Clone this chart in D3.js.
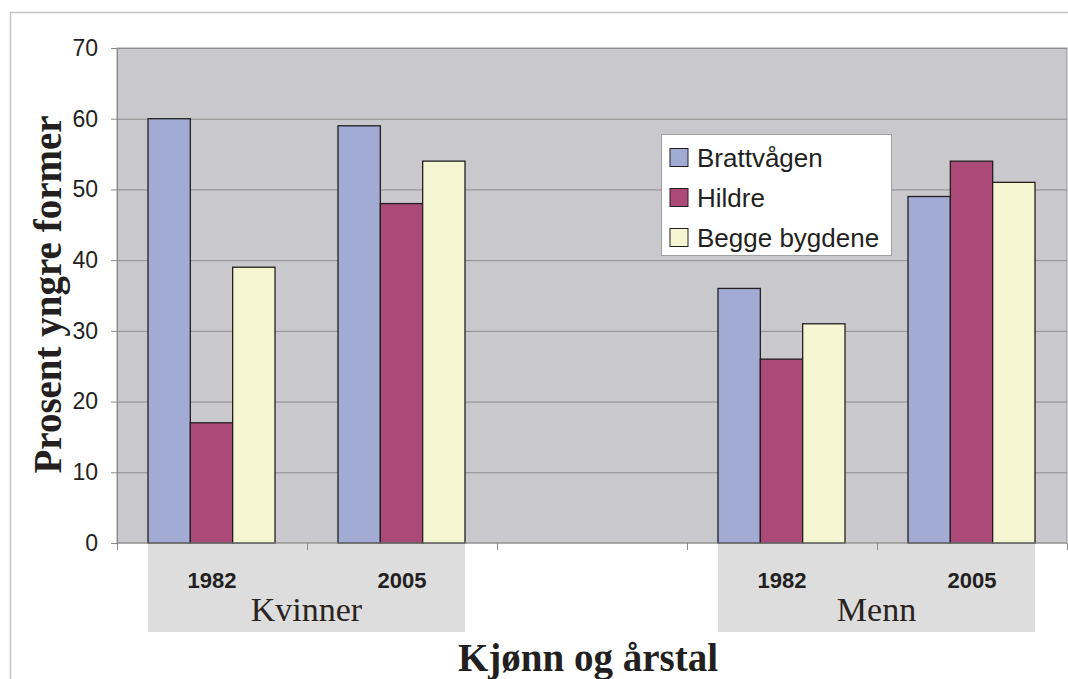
<!DOCTYPE html>
<html>
<head>
<meta charset="utf-8">
<script src="https://cdn.jsdelivr.net/npm/d3@7/dist/d3.min.js"></script>
<style>
  body { margin: 0; background: #fff; }
  svg { display: block; }
</style>
</head>
<body>
<div id="chart"></div>
<script>
const seriesNames = ["Brattvågen", "Hildre", "Begge bygdene"];
const seriesColors = ["#a1abd3", "#ab4a79", "#f6f6d3"];
const slots = ["K1982", "K2005", "gap", "M1982", "M2005"];
const yearLabels = ["1982", "2005", "", "1982", "2005"];
const brattvagen = [60, 59, null, 36, 49];
const hildre = [17, 48, null, 26, 54];
const begge = [39, 54, null, 31, 51];
const groups = [
  { name: "Kvinner", from: "K1982", to: "K2005" },
  { name: "Menn", from: "M1982", to: "M2005" }
];
const yTicks = [0, 10, 20, 30, 40, 50, 60, 70];

const width = 1068;
const height = 679;
const margin = { top: 48, right: 1, bottom: 136, left: 117 };
const innerWidth = width - margin.left - margin.right;
const innerHeight = height - margin.top - margin.bottom;

const svg = d3.select("#chart").append("svg")
  .attr("width", width)
  .attr("height", height);

// outer frame
svg.append("path")
  .attr("d", "M10.5," + height + "V12.5H" + width)
  .attr("fill", "none")
  .attr("stroke", "#c4c4c4")
  .attr("stroke-width", 1.5);

const g = svg.append("g")
  .attr("transform", "translate(" + margin.left + "," + margin.top + ")");

const x = d3.scaleBand().domain(slots).range([0, innerWidth]);
const xInner = d3.scaleBand().domain(d3.range(3)).range([31, x.bandwidth() - 32]);
const y = d3.scaleLinear().domain([0, 70]).range([innerHeight, 0]);

g.append("rect")
  .attr("width", innerWidth)
  .attr("height", innerHeight)
  .attr("fill", "#c9c8cd")
  .attr("stroke", "#9a9a9a");

g.append("g")
  .selectAll("line")
  .data(yTicks.slice(1))
  .join("line")
  .attr("x1", 0)
  .attr("x2", innerWidth)
  .attr("y1", d => y(d) + 0.5)
  .attr("y2", d => y(d) + 0.5)
  .attr("stroke", "#8c8c8c");

// group label boxes
groups.forEach(grp => {
  const x0 = x(grp.from) + xInner(0);
  const x1 = x(grp.to) + xInner(2) + xInner.bandwidth();
  g.append("rect")
    .attr("x", x0)
    .attr("y", innerHeight + 1)
    .attr("width", x1 - x0)
    .attr("height", 88)
    .attr("fill", "#dcdddc");
  g.append("text")
    .attr("x", (x0 + x1) / 2)
    .attr("y", innerHeight + 78)
    .attr("text-anchor", "middle")
    .attr("font-family", "Liberation Serif, Times New Roman, serif")
    .attr("font-size", 34)
    .attr("fill", "#2a2320")
    .text(grp.name);
});

const series = [brattvagen, hildre, begge];
series.forEach((vals, si) => {
  g.append("g")
    .selectAll("rect")
    .data(slots.map((s, i) => ({ slot: s, value: vals[i] })).filter(d => d.value != null))
    .join("rect")
    .attr("x", d => x(d.slot) + xInner(si))
    .attr("y", d => y(d.value))
    .attr("width", xInner.bandwidth())
    .attr("height", d => innerHeight - y(d.value))
    .attr("fill", seriesColors[si])
    .attr("stroke", "#231f20")
    .attr("stroke-width", 1.3);
});

// y axis
const yAxis = g.append("g")
  .call(d3.axisLeft(y).tickValues(yTicks).tickSize(6).tickPadding(13));
yAxis.select(".domain").attr("stroke", "#8c8c8c");
yAxis.selectAll(".tick line").attr("stroke", "#8c8c8c");
yAxis.selectAll("text")
  .attr("font-family", "Liberation Sans, Arial, sans-serif")
  .attr("font-size", 23)
  .attr("fill", "#231f20");

// x axis ticks at band edges
const xAxis = g.append("g")
  .attr("transform", "translate(0," + innerHeight + ")");
xAxis.append("line")
  .attr("x1", 0).attr("x2", innerWidth)
  .attr("stroke", "#8c8c8c");
xAxis.selectAll(".edge")
  .data(slots.concat(["end"]))
  .join("line")
  .attr("class", "edge")
  .attr("x1", (d, i) => i * x.bandwidth() + 0.5)
  .attr("x2", (d, i) => i * x.bandwidth() + 0.5)
  .attr("y1", 0)
  .attr("y2", 7)
  .attr("stroke", "#8c8c8c");
xAxis.selectAll(".year")
  .data(slots.filter((s, i) => yearLabels[i] !== ""))
  .join("text")
  .attr("class", "year")
  .attr("x", d => x(d) + x.bandwidth() / 2)
  .attr("y", 45)
  .attr("text-anchor", "middle")
  .attr("font-family", "Liberation Sans, Arial, sans-serif")
  .attr("font-weight", "bold")
  .attr("font-size", 22)
  .attr("fill", "#231f20")
  .text(d => yearLabels[slots.indexOf(d)]);

// axis titles
svg.append("text")
  .attr("transform", "translate(61," + (margin.top + innerHeight / 2 - 1) + ") rotate(-90)")
  .attr("text-anchor", "middle")
  .attr("font-family", "Liberation Serif, Times New Roman, serif")
  .attr("font-weight", "bold")
  .attr("font-size", 39)
  .attr("fill", "#231f20")
  .text("Prosent yngre former");

svg.append("text")
  .attr("x", 588)
  .attr("y", 671)
  .attr("text-anchor", "middle")
  .attr("font-family", "Liberation Serif, Times New Roman, serif")
  .attr("font-weight", "bold")
  .attr("font-size", 39)
  .attr("fill", "#231f20")
  .text("Kjønn og årstal");

// legend
const legend = svg.append("g").attr("transform", "translate(661.5,134.5)");
legend.append("rect")
  .attr("width", 230)
  .attr("height", 121)
  .attr("fill", "#fff")
  .attr("stroke", "#a0a0a0");
seriesNames.forEach((name, i) => {
  const row = legend.append("g").attr("transform", "translate(8.5," + (14 + i * 40) + ")");
  row.append("rect")
    .attr("width", 18)
    .attr("height", 18)
    .attr("fill", seriesColors[i])
    .attr("stroke", "#231f20");
  row.append("text")
    .attr("x", 27)
    .attr("y", 18)
    .attr("font-family", "Liberation Sans, Arial, sans-serif")
    .attr("font-size", 26)
    .attr("fill", "#231f20")
    .text(name);
});
</script>
</body>
</html>
